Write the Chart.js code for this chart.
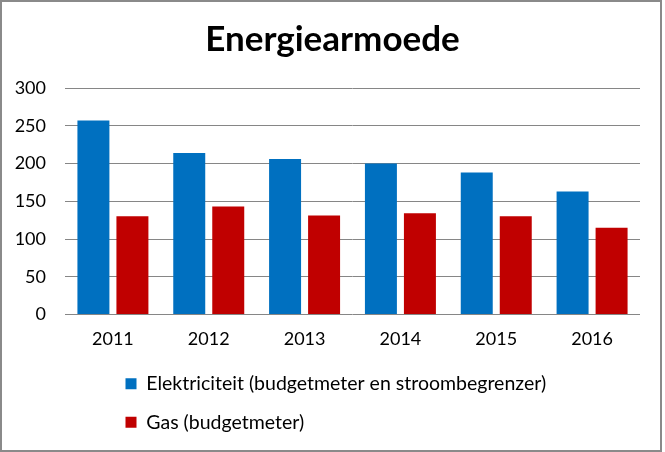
<!DOCTYPE html>
<html>
<head>
<meta charset="utf-8">
<script src="https://cdn.jsdelivr.net/npm/chart.js@4/dist/chart.umd.min.js"></script>
<style>
  html, body { margin: 0; padding: 0; background: #fff; }
  #wrap { position: relative; width: 665px; height: 452px; }
  #frame { position: absolute; left: 0; top: 0; width: 662px; height: 452px; box-sizing: border-box; border: 2px solid #8a8a8a; pointer-events: none; }
</style>
</head>
<body>
<div id="wrap">
  <canvas id="c" width="665" height="452"></canvas>
  <div id="frame"></div>
</div>
<script>
const titleText = 'Energiearmoede';
const categories = ['2011', '2012', '2013', '2014', '2015', '2016'];
const seriesNames = ['Elektriciteit (budgetmeter en stroombegrenzer)', 'Gas (budgetmeter)'];
const elektriciteit = [257, 214, 206, 200, 188, 163];
const gas = [130, 143, 131, 134, 130, 115];
const yTicks = [0, 50, 100, 150, 200, 250, 300];

const FONT = 'Lato, "Open Sans", sans-serif';

const layoutTweaks = {
  id: 'layoutTweaks',
  beforeDraw(chart) {
    if (chart.legend) chart.legend.left = 106.5;
    if (chart.titleBlock) { chart.titleBlock.left = 0; chart.titleBlock.right = 665; }
  }
};

new Chart(document.getElementById('c'), {
  type: 'bar',
  data: {
    labels: categories,
    datasets: [
      { label: seriesNames[0], data: elektriciteit, backgroundColor: '#0070C0', categoryPercentage: 0.814, barPercentage: 0.82 },
      { label: seriesNames[1], data: gas, backgroundColor: '#C00000', categoryPercentage: 0.814, barPercentage: 0.82 }
    ]
  },
  options: {
    responsive: false,
    animation: false,
    devicePixelRatio: 1,
    layout: { padding: { left: 0, right: 25, top: 0, bottom: 10 } },
    plugins: {
      title: {
        display: true,
        text: titleText,
        color: '#000',
        font: { family: FONT, size: 35, weight: 'bold' },
        padding: { top: 19, bottom: 27 }
      },
      legend: {
        display: true,
        position: 'bottom',
        align: 'start',
        fullSize: false,
        labels: {
          color: '#000',
          font: { family: FONT, size: 19.5 },
          boxWidth: 11,
          boxHeight: 11,
          padding: 19
        }
      },
      tooltip: { enabled: false }
    },
    scales: {
      x: {
        grid: { display: false, drawTicks: false },
        border: { display: false },
        ticks: { color: '#000', font: { family: FONT, size: 18 }, padding: 14 },
        afterFit(s) { s.height = 40.5; }
      },
      y: {
        min: 0,
        max: 300,
        afterBuildTicks(s) { s.ticks = yTicks.map(v => ({ value: v })); },
        grid: { color: '#868686', lineWidth: 1, drawTicks: false },
        border: { display: false },
        ticks: { color: '#000', font: { family: FONT, size: 18 }, padding: 19 },
        afterFit(s) { s.width = 65; }
      }
    }
  },
  plugins: [layoutTweaks]
});
</script>
</body>
</html>
